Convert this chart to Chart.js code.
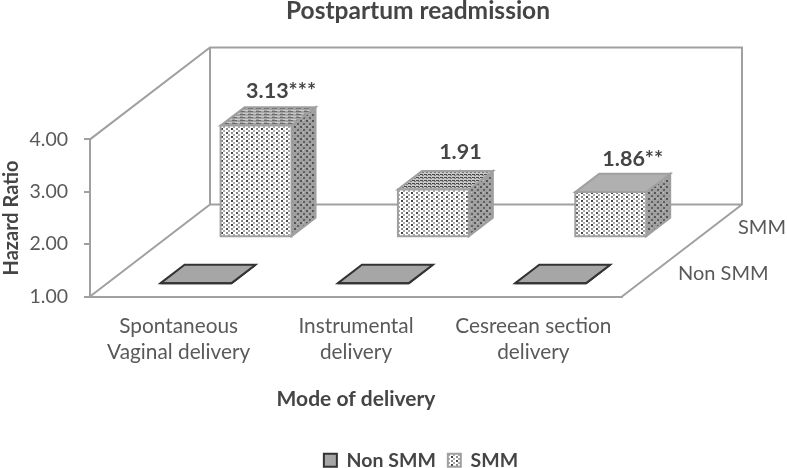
<!DOCTYPE html>
<html>
<head>
<meta charset="utf-8">
<script src="https://cdn.jsdelivr.net/npm/chart.js@4"></script>
<style>
  html, body { margin: 0; padding: 0; background: #fff; }
  canvas { display: block; }
</style>
</head>
<body>
<canvas id="myChart" width="787" height="468"></canvas>
<script>
// values
var categories = [['Spontaneous', 'Vaginal delivery'], ['Instrumental', 'delivery'], ['Cesreean section', 'delivery']];
var seriesNames = ['Non SMM', 'SMM'];
var nonSmmValues = [1.00, 1.00, 1.00];
var smmValues = [3.13, 1.91, 1.86];
var smmLabels = ['3.13***', '1.91', '1.86**'];
var yTicks = [1, 2, 3, 4];

var FONT = 'Lato, "Open Sans", sans-serif';
var TEXT = '#595959';
var BOLD_TEXT = '#454545';
var LINE = '#a0a0a0';

// 3d look: the floor runs back by this vector, each series sits at a depth along it
var DEPTH = { x: 120, y: -92 };
var WALL_HEIGHT = 157;
var seriesDepth = [0.145, 0.645];
var BOX_DEPTH = 0.2;
var labelShift = [[25, -35], [27, -37], [22, -33]];

function tile(w, h, bg, dots) {
  var c = document.createElement('canvas');
  c.width = w; c.height = h;
  var g = c.getContext('2d');
  g.fillStyle = bg;
  g.fillRect(0, 0, w, h);
  dots.forEach(function (d) {
    g.fillStyle = d[2];
    g.fillRect(d[0], d[1], d[3] || 2, d[4] || 2);
  });
  return g.createPattern(c, 'repeat');
}

var frontFill = tile(10, 8, '#ffffff', [
  [1, 0, '#444444'], [6, 0, '#8c8c8c'], [3, 2, '#aaaaaa'], [8, 2, '#aaaaaa'],
  [1, 4, '#8c8c8c'], [6, 4, '#4c4c4c'], [3, 6, '#aaaaaa'], [8, 6, '#aaaaaa']
]);
var sideFill = tile(6, 6, '#a0a0a0', [
  [0, 0, '#555555'], [3, 3, '#606060'], [3, 0, '#c4c4c4', 1, 1]
]);
var streakFill = tile(8, 3, '#a4a4a4', [[0, 0, '#6c6c6c', 5, 1], [3, 2, '#cccccc', 5, 1]]);
var darkStreakFill = tile(4, 3, '#c8c8c8', [[0, 0, '#4a4a4a', 3, 1], [2, 1, '#808080', 2, 1]]);
var topFills = [streakFill, darkStreakFill, '#b0b0b0'];

var depth3d = {
  id: 'depth3d',
  afterLayout: function (chart) {
    // title and legend sit over the plot, not over the whole page
    chart.titleBlock.left += 107; chart.titleBlock.right += 107;
    chart.titleBlock.top -= 4;
    chart.legend.left += 110; chart.legend.right += 110;
    chart.legend.top += 12;
  },
  beforeDatasetsDraw: function (chart) {
    var a = chart.chartArea, ctx = chart.ctx;
    var top = a.bottom + DEPTH.y - WALL_HEIGHT;
    ctx.save();
    ctx.strokeStyle = LINE;
    ctx.lineWidth = 2;
    ctx.beginPath();
    ctx.moveTo(a.left, a.top);
    ctx.lineTo(a.left + DEPTH.x, top);
    ctx.lineTo(a.right + DEPTH.x, top);
    ctx.lineTo(a.right + DEPTH.x, a.bottom + DEPTH.y);
    ctx.lineTo(a.right, a.bottom);
    ctx.moveTo(a.left, a.bottom);
    ctx.lineTo(a.left + DEPTH.x, a.bottom + DEPTH.y);
    ctx.lineTo(a.right + DEPTH.x, a.bottom + DEPTH.y);
    ctx.moveTo(a.left + DEPTH.x, a.bottom + DEPTH.y);
    ctx.lineTo(a.left + DEPTH.x, top);
    ctx.stroke();
    // names of the depth axis
    ctx.fillStyle = TEXT;
    ctx.font = '20px ' + FONT;
    ctx.textBaseline = 'middle';
    ctx.textAlign = 'left';
    ctx.fillText(seriesNames[1], 738, 228);
    ctx.fillText(seriesNames[0], 678, 274);
    ctx.restore();
  },
  beforeDatasetDraw: function (chart, args) {
    var ctx = chart.ctx, i = args.index;
    var ds = chart.data.datasets[i];
    var dx = DEPTH.x * BOX_DEPTH, dy = DEPTH.y * BOX_DEPTH;
    args.meta.data.forEach(function (bar, n) {
      var sx = DEPTH.x * seriesDepth[i], sy = DEPTH.y * seriesDepth[i];
      var l = bar.x - bar.width / 2 + sx, r = bar.x + bar.width / 2 + sx;
      var t = bar.y + sy, b = bar.base + sy;
      ctx.save();
      ctx.lineJoin = 'miter';
      ctx.strokeStyle = ds.borderColor;
      ctx.lineWidth = ds.borderWidth;
      // side
      ctx.fillStyle = sideFill;
      ctx.beginPath();
      ctx.moveTo(r, t); ctx.lineTo(r + dx, t + dy); ctx.lineTo(r + dx, b + dy); ctx.lineTo(r, b);
      ctx.closePath();
      ctx.fill(); ctx.stroke();
      // top
      ctx.fillStyle = i === 0 ? ds.backgroundColor : topFills[n];
      ctx.beginPath();
      ctx.moveTo(l, t); ctx.lineTo(l + dx, t + dy); ctx.lineTo(r + dx, t + dy); ctx.lineTo(r, t);
      ctx.closePath();
      ctx.fill(); ctx.stroke();
      // front
      ctx.fillStyle = ds.backgroundColor;
      ctx.beginPath();
      ctx.rect(l, t, r - l, b - t);
      ctx.fill(); ctx.stroke();
      ctx.restore();
    });
    return false;
  },
  afterDatasetsDraw: function (chart) {
    var ctx = chart.ctx;
    var bars = chart.getDatasetMeta(1).data;
    ctx.save();
    ctx.fillStyle = BOLD_TEXT;
    ctx.font = 'bold 21.5px ' + FONT;
    ctx.textAlign = 'center';
    ctx.textBaseline = 'middle';
    bars.forEach(function (bar, n) {
      var x = bar.x + DEPTH.x * seriesDepth[1] + labelShift[n][0];
      var y = bar.y + DEPTH.y * seriesDepth[1] + labelShift[n][1];
      ctx.fillText(smmLabels[n], x, y);
    });
    // leader line of the middle label
    var mid = bars[1];
    var mx = mid.x + DEPTH.x * seriesDepth[1] + labelShift[1][0];
    var my = mid.y + DEPTH.y * seriesDepth[1] + labelShift[1][1];
    ctx.strokeStyle = LINE;
    ctx.lineWidth = 1;
    ctx.beginPath();
    ctx.moveTo(mx, my + 17);
    ctx.lineTo(mx - 5, my + 24);
    ctx.stroke();
    ctx.restore();
  }
};

new Chart(document.getElementById('myChart'), {
  type: 'bar',
  data: {
    labels: categories,
    datasets: [
      { label: seriesNames[0], data: nonSmmValues, base: 1, backgroundColor: '#a6a6a6', borderColor: '#333333', borderWidth: 2 },
      { label: seriesNames[1], data: smmValues, base: 1, backgroundColor: frontFill, borderColor: LINE, borderWidth: 2 }
    ]
  },
  plugins: [depth3d],
  options: {
    responsive: false,
    animation: false,
    events: [],
    grouped: false,
    categoryPercentage: 1,
    barPercentage: 0.4,
    layout: { padding: { left: 0, right: 165, top: 0, bottom: 0 } },
    plugins: {
      tooltip: { enabled: false },
      title: {
        display: true,
        text: 'Postpartum readmission',
        color: BOLD_TEXT,
        font: { family: FONT, size: 24.5, weight: 'bold' },
        padding: { top: 0, bottom: 110 }
      },
      legend: {
        position: 'bottom',
        labels: {
          color: BOLD_TEXT,
          font: { family: FONT, size: 19.5, weight: 'bold' },
          boxWidth: 13,
          boxHeight: 13,
          padding: 12
        }
      }
    },
    scales: {
      x: {
        afterFit: function (s) { s.height = 130; },
        grid: { display: false, drawTicks: false },
        border: { color: LINE, width: 2 },
        ticks: {
          color: TEXT,
          font: { family: FONT, size: 20.8, lineHeight: 1.25 },
          padding: 17,
          maxRotation: 0
        },
        title: {
          display: true,
          text: 'Mode of delivery',
          color: BOLD_TEXT,
          font: { family: FONT, size: 21, weight: 'bold' },
          padding: { top: 0, bottom: 15 }
        }
      },
      y: {
        min: 1,
        max: 4,
        afterFit: function (s) { s.width = 90; },
        afterBuildTicks: function (s) { s.ticks = yTicks.map(function (v) { return { value: v }; }); },
        grid: { display: true, drawOnChartArea: false, color: LINE, lineWidth: 2, tickLength: 6 },
        border: { color: LINE, width: 2 },
        ticks: {
          color: TEXT,
          font: { family: FONT, size: 19.5 },
          padding: 16,
          callback: function (v) { return v.toFixed(2); }
        },
        title: {
          display: true,
          text: 'Hazard Ratio',
          color: BOLD_TEXT,
          font: { family: FONT, size: 20, weight: 'bold' },
          padding: { top: 0, bottom: 0 }
        }
      }
    }
  }
});
</script>
</body>
</html>
